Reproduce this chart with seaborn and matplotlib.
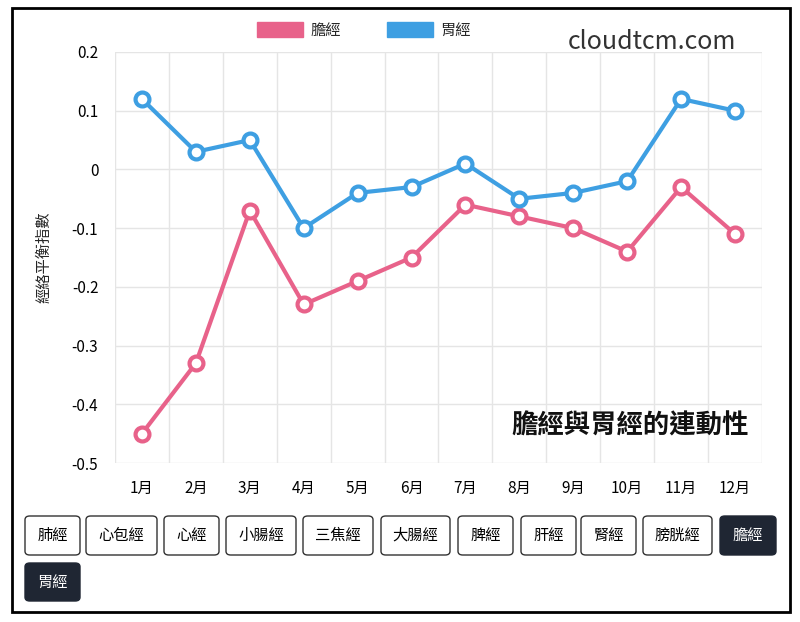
import matplotlib.pyplot as plt
import matplotlib.patches as mpatches
import pandas as pd
import seaborn as sns

sns.set_theme(style="whitegrid")
plt.rcParams['font.family'] = ['Noto Sans CJK TC', 'DejaVu Sans']

months = ['1月', '2月', '3月', '4月', '5月', '6月', '7月', '8月', '9月', '10月', '11月', '12月']
dan = [-0.45, -0.33, -0.07, -0.23, -0.19, -0.15, -0.06, -0.08, -0.10, -0.14, -0.03, -0.11]
wei = [0.12, 0.03, 0.05, -0.10, -0.04, -0.03, 0.01, -0.05, -0.04, -0.02, 0.12, 0.10]
buttons = ['肺經', '心包經', '心經', '小腸經', '三焦經', '大腸經', '脾經', '肝經', '腎經', '膀胱經', '膽經', '胃經']
active = ['膽經', '胃經']

c_dan = '#E8628A'
c_wei = '#3E9FE2'

W, H = 800, 622
fig = plt.figure(figsize=(W / 100, H / 100), dpi=100)
fig.patch.set_facecolor('white')
ax = fig.add_axes([115 / W, 1 - 463 / H, (762 - 115) / W, (463 - 52) / H])

df = pd.DataFrame({'month': months * 2, 'value': dan + wei,
                   'series': ['膽經'] * 12 + ['胃經'] * 12})
sns.lineplot(data=df, x='month', y='value', hue='series', palette=[c_dan, c_wei],
             ax=ax, lw=3, sort=False, legend=False)
for vals, c in [(dan, c_dan), (wei, c_wei)]:
    ax.plot(range(12), vals, ls='none', marker='o', ms=10, mfc='white', mec=c, mew=3, zorder=5)

ax.set_xlim(-0.5, 11.5)
ax.set_ylim(-0.5, 0.2)
ax.set_yticks([0.2, 0.1, 0, -0.1, -0.2, -0.3, -0.4, -0.5])
ax.set_yticklabels(['0.2', '0.1', '0', '-0.1', '-0.2', '-0.3', '-0.4', '-0.5'])
ax.set_xticks(range(12))
ax.set_xticks([i - 0.5 for i in range(13)], minor=True)
ax.grid(False)
ax.grid(which='minor', axis='x', color='#e5e5e5', lw=1)
ax.grid(which='major', axis='y', color='#e5e5e5', lw=1)
ax.tick_params(axis='both', labelsize=11, colors='black', length=0, pad=12)
for s in ax.spines.values():
    s.set_visible(False)
ax.set_xlabel('')
ax.set_ylabel('經絡平衡指數', fontsize=11, labelpad=14)

handles = [mpatches.Patch(color=c_dan, label='膽經'), mpatches.Patch(color=c_wei, label='胃經')]
fig.legend(handles=handles, loc='center', bbox_to_anchor=(0.455, 1 - 30 / H), ncol=2,
           frameon=False, fontsize=11, handlelength=3.0, handleheight=1.2,
           handletextpad=0.5, columnspacing=3.0)

fig.text(652 / W, 1 - 42 / H, 'cloudtcm.com', fontsize=18, color='#333333', ha='center', va='center')
ax.text(0.98, 0.09, '膽經與胃經的連動性', transform=ax.transAxes, fontsize=19,
        fontweight='bold', ha='right', va='center', color='#111111')

# button row
pos = [(25, 80), (86, 157), (164, 219), (226, 296), (303, 373), (381, 450),
       (458, 513), (521, 576), (581, 636), (643, 712), (720, 776), (25, 80)]
for name, (x0, x1) in zip(buttons, pos):
    y0, y1 = (516, 555) if name != '胃經' else (563, 601)
    on = name in active
    box = mpatches.FancyBboxPatch((x0 / W, 1 - y1 / H), (x1 - x0) / W, (y1 - y0) / H,
                                  boxstyle='round,pad=0,rounding_size=0.006',
                                  transform=fig.transFigure, fc='#1f2633' if on else 'white',
                                  ec='#1f2633' if on else '#333333', lw=1)
    fig.add_artist(box)
    fig.text((x0 + x1) / 2 / W, 1 - (y0 + y1) / 2 / H, name, fontsize=11,
             color='white' if on else 'black', ha='center', va='center')

border = mpatches.Rectangle((12 / W, 1 - 612 / H), 778 / W, 604 / H, transform=fig.transFigure,
                            fill=False, ec='black', lw=2)
fig.add_artist(border)

fig.savefig('out.png', dpi=100)
